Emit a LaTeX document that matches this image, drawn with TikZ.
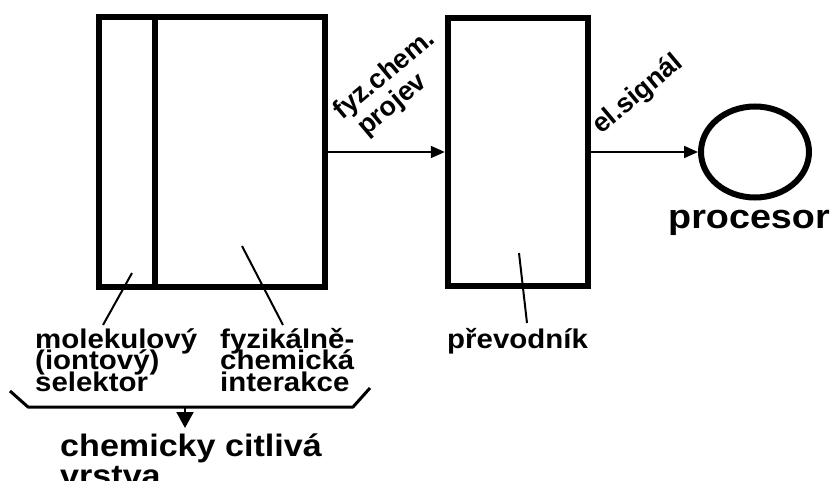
\documentclass[tikz,border=0pt]{standalone}
\usepackage{fontspec}
\setmainfont{Liberation Sans}
\usetikzlibrary{arrows.meta,shapes.geometric}
% let lines with accents or parentheses keep the fixed baseline distance
\newcommand\tightlines{\lineskiplimit=-40pt\relax\lineskip=0pt\relax}
\tikzset{
  blockbox/.style={draw, line width=6.5pt, minimum width=#1, inner sep=0pt, outer sep=auto},
  label/.style={font=\bfseries\fontsize{27}{21.5}\selectfont\tightlines, inner sep=0pt, align=left, xscale=1.09, anchor=base west},
  biglabel/.style={font=\bfseries\fontsize{31}{30}\selectfont\tightlines, inner sep=0pt, align=left, xscale=1.1, anchor=base west},
  tiltlabel/.style={font=\bfseries\fontsize{27}{28}\selectfont\tightlines, inner sep=0pt, align=left, rotate=40, anchor=base west},
  flow/.style={line width=2pt, -{Triangle[length=14pt,width=12pt]}},
  pointer/.style={line width=2pt},
}
\begin{document}
\begin{tikzpicture}[x=1pt,y=-1pt]
\useasboundingbox (0,0) rectangle (833,481);

% sensing layer: selector + interaction region
\node[blockbox=226pt, minimum height=270pt] (layer) at (212,152) {};
\coordinate (divtop) at (155,17);
\coordinate (divbot) at (155,287);
\draw[line width=6pt] (divtop) -- (divbot);

% transducer
\node[blockbox=140pt, minimum height=268pt] (trans) at (518,152) {};

% processor
\node[draw, ellipse, line width=6pt, minimum width=108pt, minimum height=91pt, inner sep=0pt, outer sep=auto] (cpu) at (755,152) {};
\node[font=\bfseries\fontsize{34}{34}\selectfont, inner sep=0pt, xscale=1.11, anchor=base west] (cpulbl) at (668,229) {procesor};

% signal flow
\draw[flow] (layer.east) -- (trans.west);
\draw[flow] (trans.east) -- (cpu.west);
% the base anchor of a two-line node sits on its last line
\node[tiltlabel] (phys) at (360,142) {fyz.chem.\\\hspace*{8pt}projev};
\node[tiltlabel] (elsig) at (601,135) {el.signál};

% part labels
\node[label] (sel) at (35,391) {molekulový\\(iontový)\\selektor};
\node[label] (inter) at (220,391) {fyzikálně-\\chemická\\interakce};
\node[label] (conv) at (447,348) {převodník};

\coordinate (p1a) at (132,273);
\coordinate (p1b) at (103,325);
\coordinate (p2a) at (242,246);
\coordinate (p2b) at (283,325);
\coordinate (p3a) at (519,253);
\coordinate (p3b) at (527,323);
\draw[pointer] (p1a) -- (p1b);
\draw[pointer] (p2a) -- (p2b);
\draw[pointer] (p3a) -- (p3b);

% grouping bracket
\coordinate (bl) at (10,391);
\coordinate (bl2) at (28,407);
\coordinate (br2) at (353,407);
\coordinate (br) at (370,388);
\coordinate (bm) at (185,407);
\coordinate (bmtip) at (185,428);
\draw[line width=3pt, line join=round] (bl) -- (bl2) -- (br2) -- (br);
\draw[line width=2pt, -{Triangle[length=16pt,width=17pt]}] (bm) -- (bmtip);

\node[biglabel] (layerlbl) at (60,486) {chemicky citlivá\\vrstva};
\end{tikzpicture}
\end{document}
